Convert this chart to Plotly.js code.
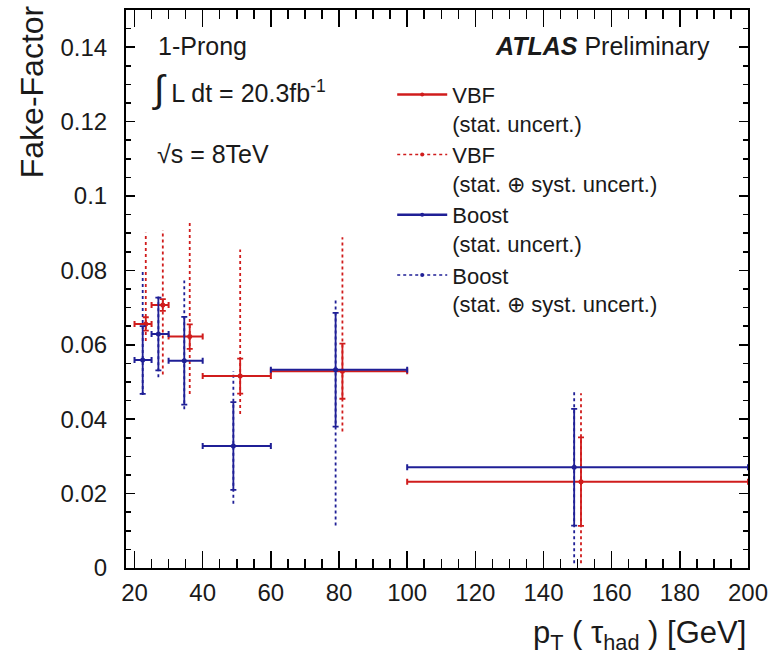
<!DOCTYPE html>
<html>
<head>
<meta charset="utf-8">
<script src="https://cdn.plot.ly/plotly-3.0.1.min.js"></script>
<style>html,body{margin:0;padding:0;background:#fff;}#chart{width:776px;height:660px;}</style>
</head>
<body>
<div id="chart"></div>
<script>
// ---- data ----
const binLow  = [20, 25, 30, 40, 60, 100];
const binHigh = [25, 30, 40, 60, 100, 200];

const vbfX      = [23.3, 28.3, 36.2, 51.0, 81.0, 151.0];
const vbfY      = [0.0656, 0.0707, 0.0622, 0.0516, 0.0529, 0.0232];
const vbfStat   = [0.0018, 0.0016, 0.0033, 0.0047, 0.0074, 0.0119];
const vbfTotHi  = [0.0901, 0.0908, 0.0930, 0.0856, 0.0889, 0.0470];
const vbfTotLo  = [0.0610, 0.0520, 0.0468, 0.0414, 0.0367, 0.0013];

const boostX     = [22.4, 27.0, 34.6, 49.0, 79.0, 149.0];
const boostY     = [0.0559, 0.0629, 0.0557, 0.0328, 0.0533, 0.0271];
const boostStat  = [0.0091, 0.0098, 0.0118, 0.0118, 0.0153, 0.0157];
const boostTotHi = [0.0804, 0.0730, 0.0773, 0.0529, 0.0720, 0.0474];
const boostTotLo = [0.0465, 0.0513, 0.0427, 0.0173, 0.0114, 0.0013];

const xTickVals = [20, 40, 60, 80, 100, 120, 140, 160, 180, 200];
const xTickText = ['20', '40', '60', '80', '100', '120', '140', '160', '180', '200'];
const yTickVals = [0, 0.02, 0.04, 0.06, 0.08, 0.1, 0.12, 0.14];
const yTickText = ['0', '0.02', '0.04', '0.06', '0.08', '0.1', '0.12', '0.14'];

const legendNames = [
  'VBF<br>(stat. uncert.)',
  'VBF<br>(stat. ⊕ syst. uncert.)',
  'Boost<br>(stat. uncert.)',
  'Boost<br>(stat. ⊕ syst. uncert.)'
];

// ---- styling ----
const RED = '#d01c1c';
const BLUE = '#1f1f96';
const FONT = 'Liberation Sans, Arial, Helvetica, sans-serif';
const TXT = '#1a1a1a';
const DOTS = '3px,3px';

function statTrace(xs, ys, stat, color) {
  return {
    type: 'scatter', mode: 'markers', x: xs, y: ys, showlegend: false,
    marker: {color: color, size: 5},
    error_y: {type: 'data', array: stat, color: color, thickness: 1.8, width: 3},
    error_x: {
      type: 'data',
      array: xs.map((x, i) => binHigh[i] - x),
      arrayminus: xs.map((x, i) => x - binLow[i]),
      color: color, thickness: 2, width: 3
    },
    hoverinfo: 'x+y'
  };
}

function totTrace(xs, hi, lo, color) {
  const lx = [], ly = [];
  xs.forEach((x, i) => { lx.push(x, x, null); ly.push(lo[i], hi[i], null); });
  return {
    type: 'scatter', mode: 'lines', x: lx, y: ly, showlegend: false,
    line: {color: color, width: 1.8, dash: DOTS}, hoverinfo: 'skip'
  };
}

function legendTrace(name, color, dash) {
  return {
    type: 'scatter', mode: 'lines+markers', x: [null], y: [null], name: name,
    line: {color: color, width: dash === 'solid' ? 2.5 : 1.5, dash: dash},
    marker: {color: color, size: 4}
  };
}

const data = [
  totTrace(vbfX, vbfTotHi, vbfTotLo, RED),
  totTrace(boostX, boostTotHi, boostTotLo, BLUE),
  statTrace(vbfX, vbfY, vbfStat, RED),
  statTrace(boostX, boostY, boostStat, BLUE),
  legendTrace(legendNames[0], RED, 'solid'),
  legendTrace(legendNames[1], RED, DOTS),
  legendTrace(legendNames[2], BLUE, 'solid'),
  legendTrace(legendNames[3], BLUE, DOTS)
];

const axisCommon = {
  showgrid: false, zeroline: false, showline: true, linecolor: '#000', linewidth: 2,
  mirror: 'allticks', ticks: 'inside', tickcolor: '#000', tickwidth: 1.5,
  tickfont: {family: FONT, size: 24, color: TXT}
};

const layout = {
  width: 776, height: 660,
  margin: {l: 126, r: 28, t: 10, b: 92},
  paper_bgcolor: '#fff', plot_bgcolor: '#fff',
  font: {family: FONT, color: TXT},
  xaxis: Object.assign({}, axisCommon, {
    range: [17.5, 200], tickmode: 'array', tickvals: xTickVals, ticktext: xTickText,
    ticklen: 17, ticklabelstandoff: 2,
    minor: {dtick: 5, ticks: 'inside', ticklen: 9, tickcolor: '#000', tickwidth: 1.5}
  }),
  yaxis: Object.assign({}, axisCommon, {
    range: [0, 0.15], tickmode: 'array', tickvals: yTickVals, ticktext: yTickText,
    ticklen: 9, ticklabelstandoff: 12,
    minor: {dtick: 0.005, ticks: 'inside', ticklen: 5, tickcolor: '#000', tickwidth: 1.5}
  }),
  showlegend: true,
  legend: {
    x: 0.428, y: 0.886, xanchor: 'left', yanchor: 'top',
    bgcolor: 'rgba(0,0,0,0)', borderwidth: 0, valign: 'top',
    font: {family: FONT, size: 22, color: TXT}, itemwidth: 50,
    tracegroupgap: 0
  },
  annotations: [
    {xref: 'paper', yref: 'paper', x: 0.048, y: 0.935, xanchor: 'left', yanchor: 'middle',
     text: '1-Prong', showarrow: false, font: {family: FONT, size: 25, color: TXT}},
    {xref: 'paper', yref: 'paper', x: 0.038, y: 0.858, xanchor: 'left', yanchor: 'middle',
     text: '<span style="font-size:38px">∫</span> L dt = 20.3fb<sup>-1</sup>', showarrow: false,
     font: {family: FONT, size: 25, color: TXT}},
    {xref: 'paper', yref: 'paper', x: 0.046, y: 0.742, xanchor: 'left', yanchor: 'middle',
     text: '√s = 8TeV', showarrow: false, font: {family: FONT, size: 25, color: TXT}},
    {xref: 'paper', yref: 'paper', x: 0.942, y: 0.935, xanchor: 'right', yanchor: 'middle',
     text: '<b><i>ATLAS</i></b> Preliminary', showarrow: false, font: {family: FONT, size: 25, color: TXT}},
    {xref: 'paper', yref: 'paper', x: -0.152, y: 1.012, xanchor: 'center', yanchor: 'top', textangle: -90,
     text: 'Fake-Factor', showarrow: false, font: {family: FONT, size: 32, color: TXT}},
    {xref: 'paper', yref: 'paper', x: 1.0, y: -0.12, xanchor: 'right', yanchor: 'middle',
     text: 'p<sub>T</sub> ( τ<sub>had</sub> ) [GeV]', showarrow: false, font: {family: FONT, size: 31, color: TXT}}
  ]
};

Plotly.newPlot('chart', data, layout, {staticPlot: true, displayModeBar: false});
</script>
</body>
</html>
